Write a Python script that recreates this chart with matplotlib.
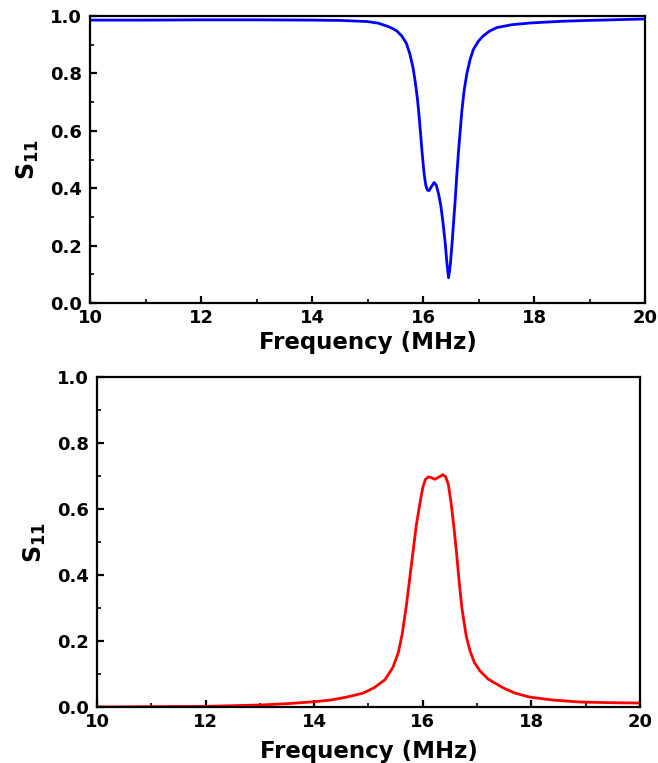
import matplotlib
matplotlib.use('Agg')
import matplotlib.pyplot as plt
from matplotlib.ticker import MultipleLocator

plt.rcParams['font.family'] = 'DejaVu Sans'
plt.rcParams['font.weight'] = 'bold'
plt.rcParams['mathtext.fontset'] = 'custom'
plt.rcParams['mathtext.rm'] = 'DejaVu Sans:bold'
plt.rcParams['mathtext.bf'] = 'DejaVu Sans:bold'

# top panel (blue dip)
freq_top = [10.0, 11.0, 12.0, 13.0, 14.0, 14.5, 15.0, 15.2, 15.35, 15.45, 15.53,
            15.62, 15.7, 15.76, 15.82, 15.86, 15.9, 15.93, 15.96, 15.99, 16.02,
            16.05, 16.08, 16.11, 16.15, 16.2, 16.24, 16.28, 16.32, 16.36, 16.4,
            16.43, 16.46, 16.49, 16.52, 16.55, 16.58, 16.61, 16.64, 16.67, 16.7,
            16.74, 16.79, 16.85, 16.91, 17.0, 17.08, 17.2, 17.33, 17.6, 17.93,
            18.5, 19.0, 20.0]
s11_top = [0.986, 0.986, 0.987, 0.987, 0.986, 0.985, 0.981, 0.975, 0.965, 0.957, 0.948,
           0.93, 0.905, 0.87, 0.82, 0.77, 0.71, 0.65, 0.58, 0.51, 0.45,
           0.41, 0.393, 0.392, 0.405, 0.42, 0.41, 0.38, 0.34, 0.28, 0.208,
           0.14, 0.088, 0.13, 0.2, 0.28, 0.36, 0.45, 0.53, 0.6, 0.67,
           0.74, 0.80, 0.85, 0.885, 0.913, 0.93, 0.948, 0.96, 0.97, 0.976,
           0.982, 0.985, 0.99]

# bottom panel (red peak)
freq_bot = [10.0, 11.0, 12.0, 12.5, 13.0, 13.5, 14.0, 14.3, 14.6, 14.9, 15.1,
            15.3, 15.45, 15.55, 15.62, 15.7, 15.76, 15.82, 15.88, 15.94, 16.0,
            16.05, 16.1, 16.16, 16.22, 16.3, 16.37, 16.42, 16.47, 16.52, 16.57,
            16.62, 16.67, 16.72, 16.8, 16.87, 16.95, 17.05, 17.2, 17.48, 17.7,
            17.97, 18.4, 18.9, 19.5, 20.0]
s11_bot = [0.0, 0.001, 0.002, 0.004, 0.006, 0.01, 0.016, 0.021, 0.03, 0.042, 0.058,
           0.082, 0.12, 0.165, 0.22, 0.31, 0.39, 0.47, 0.55, 0.61, 0.665,
           0.69, 0.697, 0.695, 0.69, 0.697, 0.704, 0.698, 0.675, 0.62, 0.55,
           0.47, 0.38, 0.30, 0.215, 0.17, 0.135, 0.11, 0.085, 0.058, 0.042,
           0.03, 0.021, 0.015, 0.013, 0.012]

fig = plt.figure(figsize=(6.58, 7.63), dpi=100)
ax1 = fig.add_axes([0.1368, 0.6029, 0.8435, 0.376])
ax2 = fig.add_axes([0.1474, 0.0734, 0.8252, 0.4325])

ax1.plot(freq_top, s11_top, color='#0000ff', lw=2.0)
ax2.plot(freq_bot, s11_bot, color='#ff0000', lw=2.0)

for ax, lp in ((ax1, 3), (ax2, 7)):
    ax.set_xlim(10, 20)
    ax.set_ylim(0, 1.0)
    ax.xaxis.set_major_locator(MultipleLocator(2))
    ax.xaxis.set_minor_locator(MultipleLocator(1))
    ax.yaxis.set_major_locator(MultipleLocator(0.2))
    ax.yaxis.set_minor_locator(MultipleLocator(0.1))
    ax.yaxis.set_major_formatter(plt.FormatStrFormatter('%.1f'))
    ax.tick_params(which='major', direction='in', length=5, width=1.6, labelsize=13)
    ax.tick_params(axis='x', which='major', pad=4)
    ax.tick_params(axis='y', which='major', pad=6)
    ax.tick_params(which='minor', direction='in', length=3, width=1.2)
    for s in ax.spines.values():
        s.set_linewidth(1.6)
    ax.set_xlabel('Frequency (MHz)', fontsize=16.5, fontweight='bold', labelpad=lp)
    ax.set_ylabel(r'$\mathrm{S_{11}}$', fontsize=17, labelpad=6)

plt.savefig('out.png', dpi=100)
